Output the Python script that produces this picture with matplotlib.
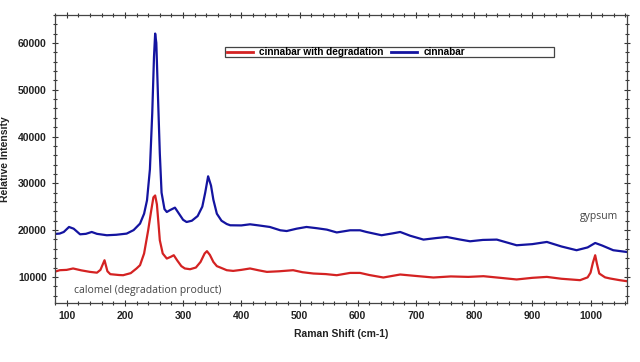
import matplotlib
matplotlib.use("Agg")
import matplotlib.pyplot as plt
from matplotlib.ticker import MultipleLocator
from matplotlib.patches import Rectangle
from matplotlib.lines import Line2D

# Raman shift (cm-1) and intensity for "cinnabar" (blue)
blue_x = [82, 88, 95, 104, 112, 123, 133, 143, 152, 169, 185, 203, 215, 226, 233, 238,
          243, 247, 250, 252, 254, 257, 260, 263, 268, 272, 278, 286, 293, 300, 306,
          315, 325, 333, 338, 343, 348, 352, 358, 366, 375, 381, 400, 415, 430, 449,
          467, 478, 495, 512, 530, 547, 564, 587, 604, 615, 641, 660, 673, 690, 713,
          735, 753, 775, 793, 815, 839, 855, 873, 900, 925, 950, 976, 995, 1008, 1020,
          1039, 1062]
blue_y = [19200, 19260, 19600, 20670, 20300, 19100, 19200, 19600, 19200, 18900, 19000,
          19250, 20000, 21390, 23500, 26360, 33000, 45000, 57000, 62000, 60000, 48000,
          36400, 28000, 24500, 23870, 24300, 24800, 23500, 22200, 21730, 22000, 23000,
          25000, 28000, 31500, 29500, 26500, 23500, 22000, 21300, 21030, 21000, 21240,
          21000, 20670, 19960, 19800, 20300, 20670, 20400, 20100, 19500, 19960, 19960,
          19600, 18900, 19300, 19600, 18800, 17970, 18300, 18530, 18000, 17610, 17900,
          17970, 17400, 16760, 17000, 17470, 16500, 15700, 16300, 17250, 16700, 15700,
          15330]

# "cinnabar with degradation" (red)
red_x = [82, 88, 100, 111, 125, 140, 152, 158, 165, 170, 175, 190, 197, 210, 220, 226,
         233, 240, 245, 249, 252, 255, 258, 260, 265, 272, 279, 284, 290, 297, 303, 312,
         322, 330, 337, 341, 346, 352, 358, 364, 375, 386, 400, 415, 430, 444, 465, 489,
         505, 524, 545, 564, 587, 604, 620, 644, 673, 700, 730, 760, 790, 816, 845, 873,
         900, 925, 950, 982, 995, 1000, 1004, 1008, 1011, 1015, 1025, 1034, 1050, 1062]
red_y = [11200, 11430, 11500, 11800, 11400, 11070, 10900, 11500, 13560, 11200, 10580,
         10400, 10360, 10800, 11800, 12500, 15000, 19960, 24000, 27000, 27400, 25500,
         21000, 17830, 15000, 13920, 14300, 14630, 13500, 12300, 11800, 11640, 12000,
         13200, 15000, 15500, 14700, 13200, 12300, 12000, 11430, 11280, 11500, 11800,
         11400, 11070, 11200, 11430, 11000, 10720, 10600, 10360, 10850, 10850, 10400,
         9870, 10510, 10200, 9870, 10100, 10000, 10150, 9800, 9450, 9800, 10000, 9600,
         9300, 9900, 10900, 13000, 14630, 12800, 10720, 9900, 9650, 9300, 9090]

series_labels = ["cinnabar with degradation", "cinnabar"]
x_ticks = [100, 200, 300, 400, 500, 600, 700, 800, 900, 1000]
y_ticks = [10000, 20000, 30000, 40000, 50000, 60000]

RED = "#d42222"
BLUE = "#1414a0"

fig = plt.figure(figsize=(6.4, 3.62), dpi=100)
ax = fig.add_axes([0.086, 0.164, 0.894, 0.795])

ax.plot(blue_x, blue_y, color=BLUE, lw=1.6)
ax.plot(red_x, red_y, color=RED, lw=1.6)

ax.set_xlim(80, 1063)
ax.set_ylim(4500, 66000)
ax.set_xticks(x_ticks)
ax.set_yticks(y_ticks)
ax.xaxis.set_minor_locator(MultipleLocator(20))
ax.yaxis.set_minor_locator(MultipleLocator(2000))
ax.tick_params(which="both", direction="inout", top=True, right=True,
               labelsize=7.5, colors="#333333", width=0.8)
ax.tick_params(which="major", length=5)
ax.tick_params(which="minor", length=3)
for lab in ax.get_xticklabels() + ax.get_yticklabels():
    lab.set_fontweight("bold")
    lab.set_family("Liberation Sans")
    lab.set_color("#222222")
for sp in ax.spines.values():
    sp.set_color("#444444")
    sp.set_linewidth(0.9)

ax.set_xlabel("Raman Shift (cm-1)", fontsize=7.5, fontweight="bold",
              family="Liberation Sans", color="#222222", labelpad=6)
ax.set_ylabel("Relative Intensity", fontsize=7.5, fontweight="bold",
              family="Liberation Sans", color="#222222", labelpad=6)

ax.text(0.034, 0.035, "calomel (degradation product)", transform=ax.transAxes,
        fontsize=7.5, color="#444444", family="Open Sans")
ax.text(0.917, 0.29, "gypsum", transform=ax.transAxes,
        fontsize=7.5, color="#444444", family="Open Sans")

# legend box
fig.patches.append(Rectangle((225 / 640, 1 - 57.3 / 362), (554 - 225) / 640, 10.6 / 362,
                             transform=fig.transFigure, fill=False,
                             edgecolor="#444444", lw=0.9))
handles = [Line2D([], [], color=RED, lw=2), Line2D([], [], color=BLUE, lw=2)]
fig.legend(handles, series_labels, loc="center left",
           bbox_to_anchor=(227 / 640, 1 - 52 / 362), ncol=2, frameon=False,
           prop={"family": "Liberation Sans", "weight": "bold", "size": 7.2},
           handlelength=2.6, handletextpad=0.6, columnspacing=0.8,
           borderpad=0, borderaxespad=0)

fig.savefig("out.png", dpi=100)
